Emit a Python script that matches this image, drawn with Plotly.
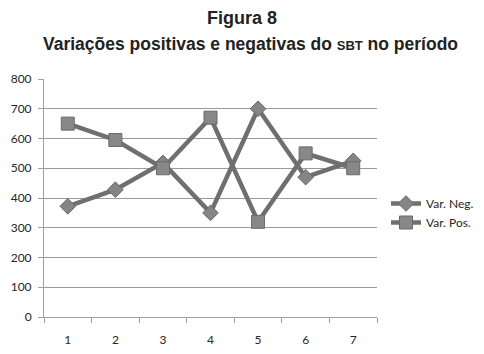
import plotly.graph_objects as go

categories = ["1", "2", "3", "4", "5", "6", "7"]
var_neg = [372, 428, 518, 350, 700, 470, 525]
var_pos = [650, 595, 500, 670, 320, 550, 500]
y_ticks = [0, 100, 200, 300, 400, 500, 600, 700, 800]

# The page body has an 8px default margin, so the figure is offset by 8px.
OFF = 8
PL, PR, PT, PB = 44, 377, 79, 317  # plot area in window pixels

line_col = "#6f6f6f"
fig = go.Figure()
fig.add_trace(go.Scatter(
    x=categories, y=var_neg, name="Var. Neg.", mode="lines+markers",
    line=dict(color=line_col, width=4.5),
    marker=dict(symbol="diamond", size=12, color="#858585",
                line=dict(color="#6a6a6a", width=1)),
))
fig.add_trace(go.Scatter(
    x=categories, y=var_pos, name="Var. Pos.", mode="lines+markers",
    line=dict(color=line_col, width=4.5),
    marker=dict(symbol="square", size=13, color="#888888",
                line=dict(color="#6a6a6a", width=1)),
))

def px_x(x):
    return (x - PL) / (PR - PL)

def px_y(y):
    return (PB - y) / (PB - PT)

title_font = dict(family="Liberation Sans, Arial, sans-serif", size=17.5, color="#222222")
fig.add_annotation(text="<b>Figura 8</b>", xref="paper", yref="paper",
                   x=px_x(242), y=px_y(18), xanchor="center",
                   yanchor="middle", showarrow=False, font=dict(title_font, size=18))
fig.add_annotation(text="<b>Variações positivas e negativas do <span style='font-size:13px'>SBT</span> no período</b>",
                   xref="paper", yref="paper",
                   x=px_x(250), y=px_y(44), xanchor="center",
                   yanchor="middle", showarrow=False, font=title_font)

fig.update_layout(
    width=484 - OFF, height=354 - OFF,
    margin=dict(l=PL - OFF, r=484 - PR, t=PT - OFF, b=354 - PB, autoexpand=False),
    paper_bgcolor="white", plot_bgcolor="white",
    font=dict(family="Lato, Open Sans, sans-serif", size=12, color="#262626"),
    showlegend=True,
    legend=dict(x=px_x(386), y=px_y(213), xanchor="left", yanchor="middle",
                font=dict(size=12, color="#262626"), itemwidth=30,
                tracegroupgap=4, bgcolor="rgba(0,0,0,0)"),
    xaxis=dict(type="category", range=[-0.5, 6.5], tickson="boundaries",
               ticks="outside", ticklen=5, tickcolor="#a0a0a0",
               showline=True, linecolor="#a0a0a0", linewidth=1,
               showgrid=False, automargin=False, ticklabelstandoff=12),
    yaxis=dict(range=[0, 800], tickvals=y_ticks, ticks="outside", ticklen=5,
               tickcolor="#a0a0a0", showline=True, linecolor="#a0a0a0",
               linewidth=1, showgrid=True, gridcolor="#9a9a9a", gridwidth=1.2,
               zeroline=False, automargin=False, ticklabelstandoff=4),
)

fig.write_html("out.html")
